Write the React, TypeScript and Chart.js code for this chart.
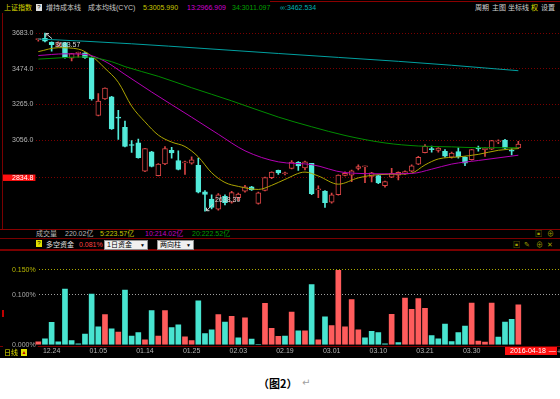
import React, { useEffect, useRef } from "react";
import { Chart, registerables } from "chart.js";
Chart.register(...registerables);

// ---------- data ----------
const dates = ["12.22","12.23","12.24","12.25","12.28","12.29","12.30","12.31","01.04","01.05","01.06","01.07","01.08","01.11","01.12","01.13","01.14","01.15","01.18","01.19","01.20","01.21","01.22","01.25","01.26","01.27","01.28","01.29","02.01","02.02","02.03","02.04","02.05","02.15","02.16","02.17","02.18","02.19","02.22","02.23","02.24","02.25","02.26","02.29","03.01","03.02","03.03","03.04","03.07","03.08","03.09","03.10","03.11","03.14","03.15","03.16","03.17","03.18","03.21","03.22","03.23","03.24","03.25","03.28","03.29","03.30","03.31","04.01","04.05","04.06","04.07","04.08","04.11"];
const dateTicks = ["12.24","01.05","01.14","01.25","02.03","02.19","03.01","03.10","03.21","03.30"];

const opens  = [3645,3653,3631,3612,3628,3537,3565,3568,3542,3200,3298,3310,3190,3130,3030,3039,2873,2987,2847,2916,2996,2936,2922,2921,2907,2752,2709,2650,2726,2692,2718,2756,2781,2684,2761,2835,2878,2858,2890,2925,2892,2919,2764,2757,2692,2735,2849,2850,2890,2899,2842,2847,2788,2838,2850,2861,2873,2915,2982,3003,2995,2990,2955,2989,2955,2941,3006,3000,3002,3045,3056,2995,3010];
const highs  = [3650,3683.57,3633,3633,3630,3565,3572,3570,3545,3328,3362,3312,3230,3168,3053,3061,3008,2990,2918,3018,3013,2993,2932,2958,2950,2760,2735,2742,2735,2755,2745,2790,2785,2750,2838,2870,2880,2868,2935,2930,2932,2920,2787,2760,2745,2852,2870,2880,2910,2903,2866,2850,2815,2890,2870,2876,2910,2960,3030,3020,3012,3000,2985,3010,2958,3002,3020,3012,3055,3058,3060,3004,3049];
const lows   = [3636,3632,3577,3604,3537,3520,3542,3535,3290,3198,3295,3118,3060,3015,2984,2950,2870,2898,2845,2912,2950,2880,2855,2915,2745,2638.3,2652,2645,2675,2685,2700,2750,2760,2680,2758,2830,2855,2852,2887,2878,2880,2735,2718,2660,2685,2733,2845,2812,2880,2806,2810,2800,2780,2835,2822,2855,2870,2912,2980,2985,2985,2955,2950,2950,2906,2938,2990,2960,3000,3035,3005,2968,3005];
const closes = [3649,3637,3616,3626,3539,3563,3570,3540,3298,3285,3361,3122,3185,3018,3024,2953,3006,2901,2915,3006,2980,2884,2926,2940,2750,2737,2660,2735,2688,2747,2739,2781,2764,2746,2836,2868,2863,2860,2926,2904,2928,2742,2767,2688,2735,2850,2860,2875,2900,2902,2863,2805,2812,2860,2866,2871,2905,2955,3019,3000,3009,2961,2979,2957,2920,3000,3004,3009,3053,3050,3008,2990,3032];

// cost average lines (read at selected bars)
const ma5Idx = [0,3,6,8,10,12,14,16,18,20,22,24,26,28,30,33,35,37,40,42,45,48,51,54,56,58,60,63,66,69,72];
const ma5Val = [3575,3598,3590,3549,3477,3395,3255,3163,3085,3044,3018,2957,2864,2807,2784,2766,2790,2825,2868,2845,2797,2834,2853,2856,2862,2910,2945,2957,2972,2996,3006];
const ma13Idx = [0,4,7,10,13,17,23,27,31,36,41,46,52,56,59,62,66,72];
const ma13Val = [3552,3562,3559,3518,3441,3338,3190,3090,2993,2928,2912,2865,2858,2860,2885,2915,2936,2967];
const ma34Idx = [0,7,11,13,18,23,29,36,41,46,52,57,62,66,72];
const ma34Val = [3531,3544,3516,3487,3430,3363,3286,3191,3134,3083,3039,3021,3016,3011,3011];
const maInfIdx = [0,7,14,25,36,45,54,62,72];
const maInfVal = [3649,3636,3621,3593,3564,3541,3518,3495,3463];

const priceTicks = [3683.0, 3474.0, 3265.0, 3056.0];
const cursorPrice = 2834.8;

// 多空资金 (%)
const flowValues = [0.006,0.012,0.045,0.006,0.111,0.0085,0.002,0.0215,0.101,0.0356,0.0605,0.0317,0.0254,0.109,0.0175,0.0243,0.0097,0.0683,0.0175,0.0683,0.0344,0.040,0.0158,0.0085,0.0876,0.0226,0.030,0.0605,0.0452,0.057,0.014,0.054,0.0113,0.0008,0.0825,0.0328,0.017,
  0.0175,0.065,0.028,0.028,0.120,0.010,0.056,0.0384,0.1486,0.0356,0.0904,0.030,0.014,0.027,0.0243,0.0017,0.061,0.0045,0.0932,0.0706,0.092,0.0729,0.0186,0.0119,0.0412,0.0062,0.0243,0.0373,0.083,0.0073,0.0056,0.083,0.0153,0.0452,0.0508,0.0797];
const flowUp = [1,0,0,0,0,0,0,0,0,0, 1,0,1,0,0,0,1,0,1,1, 0,0,1,1,0,0,0,1,0,1, 0,1,0,0,1,1,1,
  0,1,0,1,0,1,0,1,1,1, 1,1,0,0,0,0,1,0,1,1, 1,1,0,0,0,0,0,0,1,1, 1,1,0,0,0,1];
const flowTicks = [0, 0.1, 0.15];

// ---------- styles ----------
const UP = "#D84444";
const DOWN = "#52EBDA";
const FLOW_UP = "#FF5C5C";
const FLOW_DOWN = "#48E4D0";
const X_MIN = -5.295;
const X_MAX = 78.25;
const FONT = '"Liberation Sans", "Noto Sans CJK SC", sans-serif';

const pts = (idx: number[], val: number[]) => idx.map((i, k) => ({ x: i, y: val[k] }));

const hiLoPlugin = {
  id: "hiLo",
  afterDatasetsDraw(chart: any) {
    const { ctx, scales } = chart;
    const xs = scales.x, ys = scales.y;
    const hi = Math.max(...highs), hiI = highs.indexOf(hi);
    const lo = Math.min(...lows), loI = lows.indexOf(lo);
    ctx.save();
    ctx.strokeStyle = "#D8D8D8";
    ctx.fillStyle = "#D8D8D8";
    ctx.lineWidth = 1;
    ctx.font = "7px " + FONT;
    ctx.textBaseline = "middle";
    const hx = xs.getPixelForValue(hiI), hy = ys.getPixelForValue(hi);
    ctx.beginPath();
    ctx.moveTo(hx + 1, hy + 0.5); ctx.lineTo(hx + 7, hy + 5.5);
    ctx.moveTo(hx + 1, hy + 0.5); ctx.lineTo(hx + 4, hy + 0.5);
    ctx.moveTo(hx + 1, hy + 0.5); ctx.lineTo(hx + 1, hy + 3.5);
    ctx.stroke();
    ctx.fillText(hi.toFixed(2), hx + 10, hy + 12);
    const lx = xs.getPixelForValue(loI), ly = ys.getPixelForValue(lo);
    ctx.beginPath();
    ctx.moveTo(lx + 1.5, ly - 0.5); ctx.lineTo(lx + 8, ly - 7);
    ctx.moveTo(lx + 1.5, ly - 0.5); ctx.lineTo(lx + 4.5, ly - 0.5);
    ctx.moveTo(lx + 1.5, ly - 0.5); ctx.lineTo(lx + 1.5, ly - 3.5);
    ctx.stroke();
    ctx.fillText(lo.toFixed(2), lx + 10, ly - 11);
    ctx.restore();
  },
};

function MainChart() {
  const ref = useRef<HTMLCanvasElement>(null);
  useEffect(() => {
    const isUp = closes.map((c, i) => c >= opens[i]);
    const line = (data: any, color: string) => ({
      type: "line", data, borderColor: color, borderWidth: 1, pointRadius: 0,
      cubicInterpolationMode: "monotone", order: 0,
    });
    const chart = new Chart(ref.current as HTMLCanvasElement, {
      type: "bar",
      data: {
        datasets: [
          line(pts(maInfIdx, maInfVal), "#00A0A0"),
          line(pts(ma34Idx, ma34Val), "#008C00"),
          line(pts(ma13Idx, ma13Val), "#B400B4"),
          line(pts(ma5Idx, ma5Val), "#ACA400"),
          {
            type: "bar",
            data: closes.map((c, i) => ({ x: i, y: [opens[i], c] })),
            backgroundColor: isUp.map((u) => (u ? "#000000" : DOWN)),
            borderColor: isUp.map((u) => (u ? UP : DOWN)),
            borderWidth: 1, borderSkipped: false, grouped: false,
            barPercentage: 1, categoryPercentage: 1, maxBarThickness: 5, minBarLength: 1, order: 1,
          },
          {
            type: "bar",
            data: lows.map((l, i) => ({ x: i, y: [l, highs[i]] })),
            backgroundColor: isUp.map((u) => (u ? UP : DOWN)),
            borderWidth: 0, grouped: false,
            barPercentage: 1, categoryPercentage: 1, maxBarThickness: 1, order: 2,
          },
        ] as any,
      },
      options: {
        animation: false, responsive: false, events: [],
        layout: { padding: 0, autoPadding: false },
        plugins: { legend: { display: false }, tooltip: { enabled: false } },
        scales: {
          x: { type: "linear", min: X_MIN, max: X_MAX, offset: false, display: false },
          y: {
            type: "linear", position: "left", min: 2611.4, max: 3724.2,
            afterFit: (s: any) => { s.width = 3; },
            afterBuildTicks: (s: any) => { s.ticks = [...priceTicks, cursorPrice].map((v) => ({ value: v })); },
            grid: { color: "#7A0000", drawTicks: false, lineWidth: 1 },
            border: { display: false, dash: [1, 2] },
            ticks: {
              mirror: true, padding: 9,
              font: { family: FONT, size: 7 },
              color: (c: any) => (c.tick && c.tick.value === cursorPrice ? "#FFFFFF" : "#B4B4B4"),
              showLabelBackdrop: true,
              backdropColor: (c: any) => (c.tick && c.tick.value === cursorPrice ? "#FF1010" : "#000000"),
              backdropPadding: { left: 9, right: 2, top: -1, bottom: -1 },
              callback: (v: any) => Number(v).toFixed(1),
            },
          },
        },
      } as any,
      plugins: [hiLoPlugin],
    });
    return () => chart.destroy();
  }, []);
  return <canvas ref={ref} width={560} height={216} style={{ position: "absolute", left: 0, top: 13, width: 560, height: 216 }} />;
}

function FlowChart() {
  const ref = useRef<HTMLCanvasElement>(null);
  useEffect(() => {
    const chart = new Chart(ref.current as HTMLCanvasElement, {
      type: "bar",
      data: {
        datasets: [{
          data: flowValues.map((v, i) => ({ x: i, y: v })),
          backgroundColor: flowUp.map((u) => (u ? FLOW_UP : FLOW_DOWN)),
          borderWidth: 0, barThickness: 5,
        }],
      },
      options: {
        animation: false, responsive: false, events: [],
        layout: { padding: 0, autoPadding: false },
        plugins: { legend: { display: false }, tooltip: { enabled: false } },
        scales: {
          x: {
            type: "linear", position: "bottom", min: X_MIN, max: X_MAX, offset: false,
            afterFit: (s: any) => { s.height = 12; },
            afterBuildTicks: (s: any) => { s.ticks = dateTicks.map((d) => ({ value: dates.indexOf(d) })); },
            grid: { display: false, drawTicks: false, offset: false },
            border: { display: false },
            ticks: {
              autoSkip: false, maxRotation: 0, padding: 2,
              color: "#B4B4B4", font: { family: FONT, size: 7 },
              callback: (v: any) => dates[Number(v)],
            },
          },
          y: {
            type: "linear", min: 0, max: 0.16271,
            afterFit: (s: any) => { s.width = 3; },
            afterBuildTicks: (s: any) => { s.ticks = flowTicks.map((v) => ({ value: v })); },
            grid: {
              drawTicks: false,
              color: (c: any) => (c.tick && c.tick.value === 0.15 ? "#A8A800" : c.tick && c.tick.value === 0.1 ? "#A0A0A0" : "rgba(0,0,0,0)"),
            },
            border: { display: false, dash: [1, 2] },
            ticks: {
              mirror: true, padding: 9,
              font: { family: FONT, size: 7 },
              color: (c: any) => (c.tick && c.tick.value === 0.15 ? "#B8B800" : "#A8A8A8"),
              showLabelBackdrop: true, backdropColor: "#000000",
              backdropPadding: { left: 9, right: 2, top: -1, bottom: -1 },
              callback: (v: any) => Number(v).toFixed(3) + "%",
            },
          },
        },
      } as any,
    });
    return () => chart.destroy();
  }, []);
  return <canvas ref={ref} width={560} height={108} style={{ position: "absolute", left: 0, top: 250, width: 560, height: 108 }} />;
}

const T = ({ x, y, c, s = 7, children, st }: any) => (
  <span style={{ position: "absolute", left: x, top: y, color: c, fontSize: s, lineHeight: "9px", whiteSpace: "nowrap", ...(st || {}) }}>{children}</span>
);
const HLine = ({ y, x = 0, w = 560, h = 1, c = "#7A0000" }: any) => (
  <div style={{ position: "absolute", left: x, top: y, width: w, height: h, background: c }} />
);

export default function App() {
  return (
    <div style={{ position: "relative", width: 560, height: 399, background: "#FFFFFF", overflow: "hidden", fontFamily: FONT }}>
      <style>{"body{margin:0;}"}</style>
      <div style={{ position: "absolute", left: 0, top: 0, width: 560, height: 358, background: "#000000" }} />
      {/* frame lines */}
      <HLine y={1} x={270} w={290} c="#8A0000" />
      <div style={{ position: "absolute", left: 2, top: 13, width: 1, height: 216, background: "#7A0000" }} />
      <HLine y={229} h={1} c="#8A0000" />
      <HLine y={238} c="#7A0000" />
      <HLine y={249} h={2} c="#7A0000" />
      <HLine y={346} c="#7A0000" />
      <div style={{ position: "absolute", left: 2, top: 310, width: 2, height: 7, background: "#C00000" }} />

      {/* header row */}
      <T x={4} y={3} c="#D8D800">上证指数</T>
      <span style={{ position: "absolute", left: 36, top: 4, width: 6, height: 7, background: "#E0E0E0", color: "#000", fontSize: 6, lineHeight: "7px", textAlign: "center" }}>?</span>
      <T x={46} y={3} c="#C8C8C8">增持成本线</T>
      <T x={88} y={3} c="#C8C8C8">成本均线(CYC)</T>
      <T x={143} y={3} c="#C8C800">5:3005.990</T>
      <T x={187} y={3} c="#D000D0">13:2966.909</T>
      <T x={232} y={3} c="#00A000">34:3011.097</T>
      <T x={280} y={3} c="#00B4B4">∞:3462.534</T>
      <T x={475} y={3} c="#D0D0D0">周期</T>
      <T x={492} y={3} c="#D0D0D0">主图</T>
      <T x={508} y={3} c="#D0D0D0">坐标线</T>
      <T x={531} y={3} c="#E0E000">权</T>
      <T x={541} y={3} c="#D0D0D0">设置</T>

      <MainChart />

      {/* volume row */}
      <T x={36} y={229} c="#B8B8B8">成交量</T>
      <T x={65} y={229} c="#B8B8B8">220.02亿</T>
      <T x={100} y={229} c="#C8C800">5:223.57亿</T>
      <T x={145} y={229} c="#C000C0">10:214.02亿</T>
      <T x={192} y={229} c="#009C00">20:222.52亿</T>
      <T x={535} y={229} c="#A0A000">▣</T>
      <T x={547} y={229} c="#A0A000">⊕</T>

      {/* fund row */}
      <span style={{ position: "absolute", left: 36, top: 240, width: 6, height: 7, background: "#E0E000", color: "#000", fontSize: 6, lineHeight: "7px", textAlign: "center" }}>?</span>
      <T x={46} y={239.5} c="#E0E0E0">多空资金</T>
      <T x={79} y={239.5} c="#FF4040">0.081%</T>
      <div style={{ position: "absolute", left: 104, top: 240, width: 42, height: 8, background: "#F0F0F0", border: "1px solid #909090", fontSize: 7, lineHeight: "8px", color: "#000", whiteSpace: "nowrap" }}>
        <span style={{ marginLeft: 2 }}>1日资金</span><span style={{ position: "absolute", right: 2, top: 0, fontSize: 5 }}>▼</span>
      </div>
      <div style={{ position: "absolute", left: 157, top: 240, width: 35, height: 8, background: "#F0F0F0", border: "1px solid #909090", fontSize: 7, lineHeight: "8px", color: "#000", whiteSpace: "nowrap" }}>
        <span style={{ marginLeft: 2 }}>两向柱</span><span style={{ position: "absolute", right: 2, top: 0, fontSize: 5 }}>▼</span>
      </div>
      <T x={513} y={240} c="#A0A000">▣</T>
      <T x={524} y={240} c="#A0A000">✎</T>
      <T x={536} y={240} c="#A0A000">⊕</T>
      <T x={547} y={240} c="#A0A000">✕</T>

      <FlowChart />

      {/* bottom row */}
      <T x={4} y={348} c="#E0E000">日线</T>
      <span style={{ position: "absolute", left: 21, top: 349, width: 6, height: 7, background: "#E0E000", color: "#C00000", fontSize: 5, lineHeight: "7px", textAlign: "center" }}>▲</span>
      <div style={{ position: "absolute", left: 505, top: 347, width: 52, height: 8, background: "#FF1010", color: "#FFFFFF", fontSize: 7, lineHeight: "8px", whiteSpace: "nowrap" }}>
        <span style={{ marginLeft: 5 }}>2016-04-18</span><span style={{ marginLeft: 3 }}>—</span>
      </div>
      <T x={557} y={347} c="#B0B0B0">+</T>

      {/* caption */}
      <span style={{ position: "absolute", left: 258, top: 376, fontSize: 11, lineHeight: "14px", fontWeight: "bold", color: "#000", fontFamily: '"Noto Sans CJK SC", sans-serif', whiteSpace: "nowrap" }}>（图2）</span>
      <span style={{ position: "absolute", left: 302, top: 376, fontSize: 10, lineHeight: "14px", color: "#A0A0A0", fontFamily: '"DejaVu Sans", sans-serif' }}>↵</span>
    </div>
  );
}
